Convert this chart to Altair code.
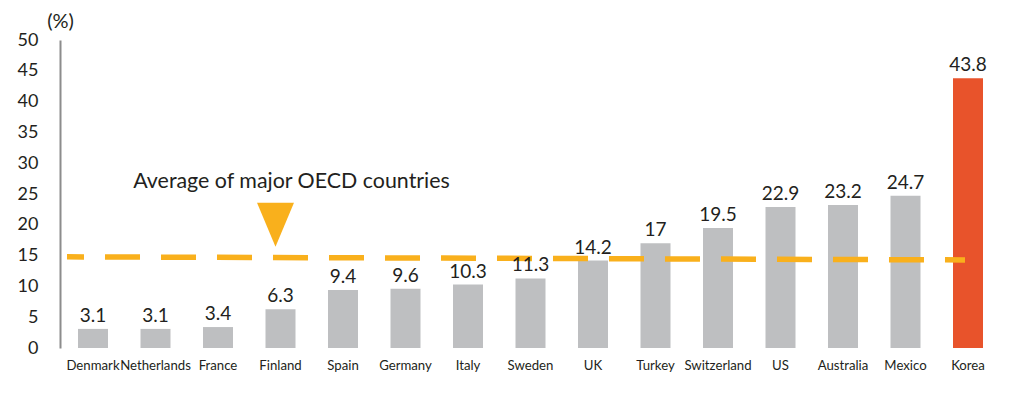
import altair as alt
import pandas as pd

countries = ["Denmark", "Netherlands", "France", "Finland", "Spain", "Germany", "Italy",
             "Sweden", "UK", "Turkey", "Switzerland", "US", "Australia", "Mexico", "Korea"]
values = [3.1, 3.1, 3.4, 6.3, 9.4, 9.6, 10.3, 11.3, 14.2, 17, 19.5, 22.9, 23.2, 24.7, 43.8]
highlight = ["Korea"]
avg_line = [14.8, 14.3]
annotation = "Average of major OECD countries"
y_ticks = [0, 5, 10, 15, 20, 25, 30, 35, 40, 45, 50]

df = pd.DataFrame({"country": countries, "value": values})
df["hl"] = df["country"].isin(highlight)

FONT = "Lato"
TXT = "#231F20"

x_axis = alt.Axis(title=None, labelAngle=0, domain=False, ticks=False,
                  labelPadding=11, labelFontSize=13.2, labelColor=TXT,
                  labelFont=FONT, labelOverlap=False)
x_scale = alt.Scale(paddingInner=0.52, paddingOuter=0.288)
y_scale = alt.Scale(domain=[0, 50], nice=False)
y_axis = alt.Axis(values=y_ticks, title="(%)", titleAngle=0, titleAlign="center",
                  titleBaseline="middle", titleX=0, titleY=-19,
                  titleFontSize=20, titleFontWeight="normal", titleColor=TXT,
                  titleFont=FONT, grid=False, ticks=False, labelPadding=22,
                  labelFontSize=18, labelColor=TXT, labelFont=FONT,
                  labelOverlap=False, labelFlush=False,
                  domainColor="#8C8C8C", domainWidth=2)


def X():
    return alt.X("country:N", sort=countries, scale=x_scale, axis=x_axis)


def Y():
    return alt.Y("value:Q", scale=y_scale, axis=y_axis)


base = alt.Chart(df)
bars = base.mark_bar().encode(
    x=X(), y=Y(),
    color=alt.condition("datum.hl", alt.value("#E8532B"), alt.value("#BEBFC1")),
)
labels = base.mark_text(baseline="alphabetic", dy=-7, fontSize=19, font=FONT, color=TXT).encode(
    x=X(), y=Y(), text=alt.Text("value:Q"),
)

line_df = pd.DataFrame({"value": [avg_line[0]], "value2": [avg_line[1]]})
rule = alt.Chart(line_df).mark_rule(color="#F9B01C", strokeWidth=5.5,
                                    strokeDash=[35, 21], strokeDashOffset=18).encode(
    x=alt.value(7), x2=alt.value(905),
    y=Y(), y2="value2:Q",
)

tri_df = pd.DataFrame({"country": ["Finland"], "value": [20.0]})
tri = alt.Chart(tri_df).mark_point(
    shape="M-0.84,-1L0.84,-1L0,1Z", size=1936, filled=True, opacity=1, color="#F9B01C"
).encode(x=X(), y=Y(), xOffset=alt.value(10))

txt_df = pd.DataFrame({"country": ["Finland"], "value": [27.0], "label": [annotation]})
ann_text = alt.Chart(txt_df).mark_text(fontSize=21.4, font=FONT, color=TXT, dx=11).encode(
    x=X(), y=Y(), text="label:N",
)

chart = alt.layer(bars, rule, labels, tri, ann_text).properties(
    width=941, height=308,
    autosize=alt.AutoSizeParams(type="none"),
    padding={"left": 52, "top": 32, "right": 15, "bottom": 37},
    view=alt.ViewBackground(strokeOpacity=0, strokeWidth=0),
).configure_view(stroke="transparent", strokeWidth=0, strokeOpacity=0).configure(background="white")

chart.save("out.html", embed_options={"renderer": "svg", "actions": False})
